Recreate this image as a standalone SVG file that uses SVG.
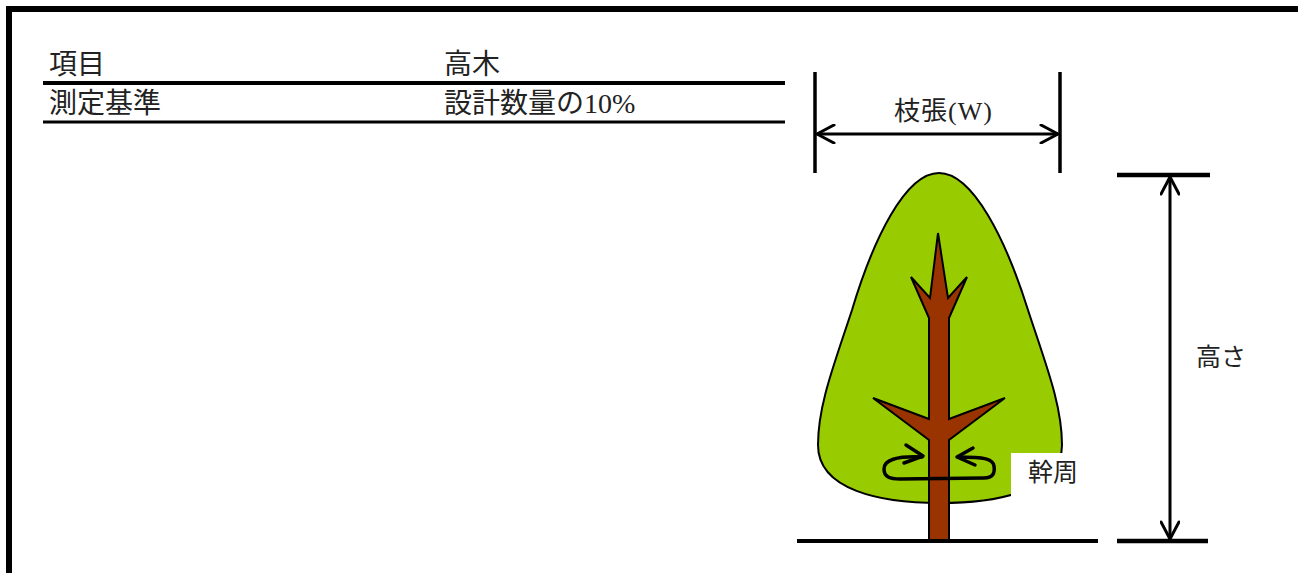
<svg xmlns="http://www.w3.org/2000/svg" width="1298" height="573" viewBox="0 0 1298 573">
<style>
.t{font-family:"Liberation Serif","Noto Sans CJK JP",serif;fill:#222;}
.tb{font-size:28px;}
.lb{font-size:25px;}
.ln{stroke:#000;fill:none;}
</style>
<defs>
<marker id="chev" viewBox="0 0 20 20" refX="19" refY="10" markerWidth="20" markerHeight="20" markerUnits="userSpaceOnUse" orient="auto-start-reverse">
<path d="M2,1 L19,10 L2,19" fill="none" stroke="#000" stroke-width="3" stroke-linecap="round" stroke-linejoin="round"/>
</marker>
</defs>
<rect width="1298" height="573" fill="#fff"/>
<g id="frame">
<line x1="6" y1="9" x2="1298" y2="9" stroke="#000" stroke-width="6"/>
<line x1="9" y1="6" x2="9" y2="573" stroke="#000" stroke-width="6"/>
</g>
<g id="table">
<line x1="43" y1="83" x2="785" y2="83" stroke="#000" stroke-width="4"/>
<line x1="43" y1="122" x2="785" y2="122" stroke="#000" stroke-width="3"/>
<text class="t tb" x="49" y="74">項目</text>
<text class="t tb" x="444" y="74">高木</text>
<text class="t tb" x="49" y="113">測定基準</text>
<text class="t tb" x="444" y="113">設計数量の10%</text>
</g>
<g id="tree">
<path id="crown" d="M939,173 C905,173 873,240 852,310 C834,365 818,405 818,445 C818,490 880,503 940,503 C1000,503 1062,490 1062,445 C1062,405 1046,365 1028,310 C1006,240 973,173 939,173 Z" fill="#99CC00" stroke="#000" stroke-width="2"/>
<polygon id="trunk" points="938,233 948,298 967,277 949,318 949,419 1005,398 949,440 949,540 929,540 929,440 873,398 929,419 929,318 911,277 930,298" fill="#993300" stroke="#000" stroke-width="2" stroke-linejoin="miter"/>
</g>
<g id="connectors">
<line class="ln" x1="815" y1="72" x2="815" y2="173" stroke-width="3.5"/>
<line class="ln" x1="1060" y1="72" x2="1060" y2="173" stroke-width="3.5"/>
<line class="ln" x1="817" y1="134" x2="1058" y2="134" stroke-width="3" marker-start="url(#chev)" marker-end="url(#chev)"/>
<line class="ln" x1="797" y1="541" x2="1098" y2="541" stroke-width="4"/>
<line class="ln" x1="1117" y1="541" x2="1208" y2="541" stroke-width="4.5"/>
<line class="ln" x1="1117" y1="175" x2="1210" y2="175" stroke-width="4.5"/>
<line class="ln" x1="1170" y1="177" x2="1170" y2="539" stroke-width="3" marker-start="url(#chev)" marker-end="url(#chev)"/>
<path class="ln" d="M906,445 L923,456 L904,463" stroke-width="3.5" stroke-linecap="round" stroke-linejoin="round"/>
<path class="ln" d="M973,448 L957,457 L975,465" stroke-width="3.5" stroke-linecap="round" stroke-linejoin="round"/>
<path class="ln" d="M922,457 C896,456 884,460 884,469 C884,477 890,479 900,479 L984,478 C993,478 995,473 994,466 C993,459 985,457 958,457" stroke-width="3.5" stroke-linecap="round"/>
</g>
<g id="labels">
<rect x="1011" y="453" width="75" height="45" fill="#fff"/>
<text class="t lb" x="894" y="120" style="font-size:26px;letter-spacing:1px">枝張(W)</text>
<text class="t lb" x="1028" y="481">幹周</text>
<text class="t lb" x="1196" y="366">高さ</text>
</g>
</svg>
